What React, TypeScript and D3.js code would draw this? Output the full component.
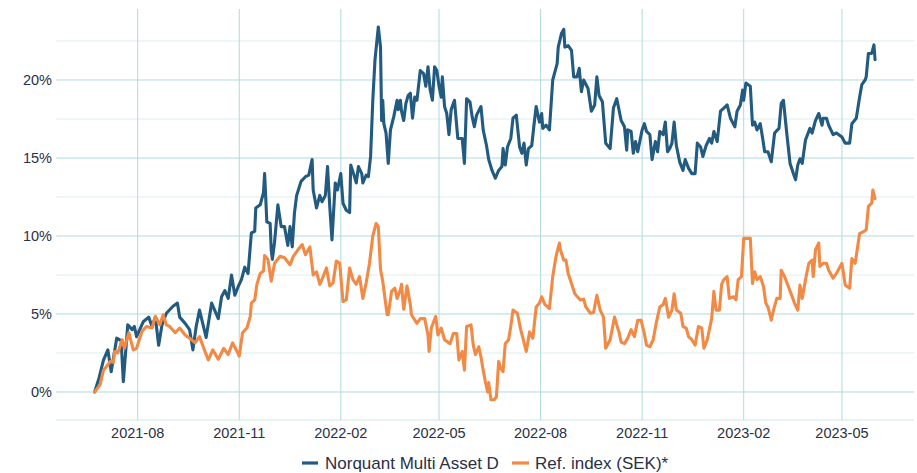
import React from "react";
import * as d3 from "d3";

// values (cumulative return, %)
const navDates = [
  "2021-06-23","2021-06-27","2021-07-01","2021-07-05","2021-07-08","2021-07-13","2021-07-17","2021-07-19","2021-07-23","2021-07-27",
  "2021-07-29","2021-07-31","2021-08-06","2021-08-11","2021-08-14","2021-08-17","2021-08-20","2021-08-23","2021-08-27","2021-09-02",
  "2021-09-06","2021-09-08","2021-09-13","2021-09-17","2021-09-20","2021-09-23","2021-09-26","2021-10-02","2021-10-07","2021-10-13",
  "2021-10-16","2021-10-19","2021-10-22","2021-10-25","2021-10-28","2021-10-31","2021-11-03","2021-11-06","2021-11-09","2021-11-12",
  "2021-11-15","2021-11-16","2021-11-20","2021-11-23","2021-11-24","2021-11-26","2021-11-29","2021-11-30","2021-12-01","2021-12-03",
  "2021-12-06","2021-12-09","2021-12-12","2021-12-15","2021-12-17","2021-12-19","2021-12-21","2021-12-23","2021-12-27","2021-12-31",
  "2022-01-03","2022-01-06","2022-01-07","2022-01-10","2022-01-13","2022-01-15","2022-01-18","2022-01-20","2022-01-22","2022-01-24",
  "2022-01-27","2022-01-29","2022-02-01","2022-02-03","2022-02-06","2022-02-09","2022-02-10","2022-02-13","2022-02-15","2022-02-17",
  "2022-02-20","2022-02-21","2022-02-24","2022-02-26","2022-02-28","2022-03-02","2022-03-04","2022-03-07","2022-03-09","2022-03-10",
  "2022-03-11","2022-03-12","2022-03-14","2022-03-16","2022-03-18","2022-03-21","2022-03-24","2022-03-25","2022-03-27","2022-03-28",
  "2022-03-30","2022-04-01","2022-04-03","2022-04-05","2022-04-07","2022-04-09","2022-04-11","2022-04-14","2022-04-17","2022-04-19",
  "2022-04-21","2022-04-23","2022-04-25","2022-04-27","2022-04-29","2022-05-01","2022-05-03","2022-05-04","2022-05-06","2022-05-08",
  "2022-05-10","2022-05-12","2022-05-15","2022-05-18","2022-05-22","2022-05-24","2022-05-26","2022-05-29","2022-05-31","2022-06-02",
  "2022-06-04","2022-06-08","2022-06-10","2022-06-13","2022-06-15","2022-06-18","2022-06-21","2022-06-24","2022-06-27","2022-06-28",
  "2022-06-30","2022-07-02","2022-07-05","2022-07-07","2022-07-10","2022-07-13","2022-07-15","2022-07-17","2022-07-19","2022-07-21",
  "2022-07-24","2022-07-26","2022-07-28","2022-07-31","2022-08-02","2022-08-03","2022-08-06","2022-08-09","2022-08-12","2022-08-16",
  "2022-08-17","2022-08-20","2022-08-22","2022-08-23","2022-08-26","2022-08-29","2022-08-31","2022-09-03","2022-09-05","2022-09-07",
  "2022-09-09","2022-09-13","2022-09-16","2022-09-19","2022-09-21","2022-09-23","2022-09-26","2022-09-29","2022-10-03","2022-10-06",
  "2022-10-09","2022-10-13","2022-10-16","2022-10-18","2022-10-19","2022-10-22","2022-10-24","2022-10-26","2022-10-28","2022-11-01",
  "2022-11-03","2022-11-05","2022-11-08","2022-11-10","2022-11-13","2022-11-15","2022-11-17","2022-11-20","2022-11-22","2022-11-24",
  "2022-11-26","2022-11-28","2022-11-30","2022-12-02","2022-12-05","2022-12-08","2022-12-10","2022-12-13","2022-12-16","2022-12-19",
  "2022-12-21","2022-12-24","2022-12-26","2022-12-29","2023-01-01","2023-01-03","2023-01-05","2023-01-08","2023-01-11","2023-01-14",
  "2023-01-17","2023-01-20","2023-01-24","2023-01-26","2023-01-29","2023-01-31","2023-02-01","2023-02-03","2023-02-07","2023-02-09",
  "2023-02-11","2023-02-13","2023-02-16","2023-02-18","2023-02-20","2023-02-23","2023-02-26","2023-03-01","2023-03-05","2023-03-07",
  "2023-03-09","2023-03-12","2023-03-15","2023-03-18","2023-03-20","2023-03-22","2023-03-24","2023-03-26","2023-03-29","2023-04-02",
  "2023-04-04","2023-04-07","2023-04-10","2023-04-13","2023-04-14","2023-04-17","2023-04-19","2023-04-23","2023-04-26","2023-05-01",
  "2023-05-04","2023-05-08","2023-05-10","2023-05-14","2023-05-17","2023-05-19","2023-05-22","2023-05-23","2023-05-25","2023-05-28",
  "2023-05-30","2023-05-31",
];
const navValues = [
  0.0, 0.9, 2.05, 2.7, 1.3, 3.45, 3.3, 0.66, 4.3, 4.0,
  4.2, 3.55, 4.5, 4.8, 4.2, 4.8, 3.0, 4.3, 5.05, 5.5,
  5.7, 4.8, 4.4, 4.0, 2.7, 4.2, 5.25, 3.5, 5.7, 4.7,
  6.1, 6.5, 6.0, 7.5, 6.2, 6.75, 7.2, 8.0, 7.6, 10.2,
  10.3, 11.8, 12.0, 12.8, 14.0, 10.9, 10.8, 9.1, 8.5, 9.6,
  12.0, 10.6, 10.6, 9.4, 10.6, 9.3, 11.45, 12.6, 13.5, 13.8,
  13.9, 14.9, 12.95, 11.8, 12.6, 12.2, 12.6, 14.45, 11.9, 9.75,
  13.4, 12.95, 14.0, 12.1, 11.65, 11.5, 14.55, 13.9, 13.4, 14.45,
  14.0, 13.4, 13.9, 13.8, 15.1, 18.7, 21.3, 23.4, 22.1, 17.4,
  18.7, 17.2, 16.6, 14.65, 16.8, 17.65, 18.7, 18.1, 18.7, 18.0,
  17.4, 18.5, 19.0, 19.15, 17.55, 18.9, 18.7, 20.6, 20.4, 19.6,
  20.85, 19.35, 18.7, 20.85, 20.6, 19.6, 18.9, 20.2, 18.3, 17.85,
  16.5, 18.1, 18.7, 16.25, 16.25, 14.65, 18.8, 18.6, 17.65, 17.0,
  17.75, 18.3, 16.8, 15.8, 14.9, 14.2, 13.7, 14.2, 14.45, 15.6,
  14.55, 15.7, 16.25, 17.55, 17.75, 15.7, 15.3, 15.95, 14.55, 15.6,
  15.8, 17.1, 18.3, 17.3, 17.85, 16.9, 17.1, 16.8, 20.0, 21.05,
  22.1, 23.0, 23.25, 22.1, 22.2, 21.9, 20.2, 20.2, 20.75, 19.25,
  20.0, 19.45, 18.0, 18.4, 20.2, 19.0, 18.6, 15.95, 15.6, 18.2,
  18.8, 17.4, 17.0, 15.5, 16.8, 16.7, 15.3, 16.05, 15.4, 16.8,
  17.2, 16.7, 16.5, 14.9, 16.05, 15.4, 16.7, 16.5, 17.3, 15.4,
  15.6, 15.95, 17.3, 15.8, 14.75, 14.2, 14.9, 14.35, 14.0, 14.0,
  15.95, 15.7, 15.1, 15.8, 16.25, 15.95, 16.7, 16.05, 18.0, 18.2,
  18.4, 17.55, 17.0, 18.0, 18.4, 19.35, 18.7, 19.8, 19.6, 17.1,
  17.3, 16.8, 17.2, 16.35, 15.4, 15.4, 14.75, 16.6, 16.9, 18.5,
  18.7, 16.6, 14.65, 14.0, 13.6, 14.55, 14.95, 14.65, 16.15, 16.9,
  16.6, 17.4, 17.85, 17.1, 17.55, 17.55, 17.1, 16.5, 16.6, 16.35,
  15.95, 15.95, 17.2, 17.55, 18.9, 19.7, 20.0, 20.2, 21.7, 21.7,
  22.25, 21.3,
];

const refDates = [
  "2021-06-23","2021-06-28","2021-07-01","2021-07-04","2021-07-07","2021-07-10","2021-07-11","2021-07-14","2021-07-18","2021-07-20",
  "2021-07-24","2021-07-28","2021-07-31","2021-08-05","2021-08-09","2021-08-14","2021-08-17","2021-08-21","2021-08-24","2021-08-27",
  "2021-08-30","2021-09-04","2021-09-08","2021-09-13","2021-09-17","2021-09-22","2021-09-26","2021-10-01","2021-10-04","2021-10-08",
  "2021-10-13","2021-10-18","2021-10-22","2021-10-26","2021-10-30","2021-11-01","2021-11-04","2021-11-08","2021-11-11","2021-11-12",
  "2021-11-15","2021-11-17","2021-11-20","2021-11-23","2021-11-24","2021-11-27","2021-11-30","2021-12-03","2021-12-08","2021-12-12",
  "2021-12-17","2021-12-20","2021-12-24","2021-12-28","2021-12-31","2022-01-04","2022-01-07","2022-01-10","2022-01-13","2022-01-16",
  "2022-01-19","2022-01-22","2022-01-25","2022-01-28","2022-01-31","2022-02-03","2022-02-06","2022-02-09","2022-02-12","2022-02-15",
  "2022-02-18","2022-02-21","2022-02-24","2022-02-27","2022-03-02","2022-03-05","2022-03-07","2022-03-09","2022-03-11","2022-03-15",
  "2022-03-16","2022-03-19","2022-03-22","2022-03-24","2022-03-27","2022-03-28","2022-03-30","2022-04-02","2022-04-05","2022-04-06",
  "2022-04-11","2022-04-14","2022-04-18","2022-04-21","2022-04-22","2022-04-24","2022-04-28","2022-04-30","2022-05-03","2022-05-06",
  "2022-05-11","2022-05-14","2022-05-17","2022-05-19","2022-05-22","2022-05-24","2022-05-26","2022-05-30","2022-06-01","2022-06-03",
  "2022-06-06","2022-06-08","2022-06-10","2022-06-12","2022-06-14","2022-06-15","2022-06-17","2022-06-20","2022-06-22","2022-06-24",
  "2022-06-26","2022-06-28","2022-06-30","2022-07-03","2022-07-05","2022-07-07","2022-07-11","2022-07-14","2022-07-16","2022-07-19",
  "2022-07-22","2022-07-25","2022-07-28","2022-07-31","2022-08-02","2022-08-05","2022-08-09","2022-08-12","2022-08-15","2022-08-18",
  "2022-08-19","2022-08-22","2022-08-24","2022-08-26","2022-08-29","2022-09-01","2022-09-06","2022-09-09","2022-09-11","2022-09-15",
  "2022-09-18","2022-09-21","2022-09-24","2022-09-27","2022-09-29","2022-10-03","2022-10-07","2022-10-09","2022-10-11","2022-10-13",
  "2022-10-16","2022-10-19","2022-10-22","2022-10-25","2022-10-28","2022-10-31","2022-11-03","2022-11-05","2022-11-08","2022-11-11",
  "2022-11-14","2022-11-17","2022-11-20","2022-11-22","2022-11-25","2022-11-28","2022-11-30","2022-12-02","2022-12-06","2022-12-08",
  "2022-12-11","2022-12-13","2022-12-16","2022-12-19","2022-12-22","2022-12-25","2022-12-27","2022-12-30","2023-01-03","2023-01-05",
  "2023-01-07","2023-01-10","2023-01-12","2023-01-14","2023-01-17","2023-01-19","2023-01-23","2023-01-25","2023-01-27","2023-01-30",
  "2023-02-01","2023-02-07","2023-02-09","2023-02-11","2023-02-13","2023-02-16","2023-02-19","2023-02-21","2023-02-23","2023-02-26",
  "2023-02-28","2023-03-03","2023-03-06","2023-03-07","2023-03-10","2023-03-13","2023-03-17","2023-03-19","2023-03-22","2023-03-24",
  "2023-03-26","2023-03-29","2023-04-01","2023-04-04","2023-04-05","2023-04-07","2023-04-10","2023-04-11","2023-04-14","2023-04-17",
  "2023-04-19","2023-04-23","2023-04-26","2023-05-01","2023-05-04","2023-05-08","2023-05-10","2023-05-13","2023-05-17","2023-05-21",
  "2023-05-23","2023-05-25","2023-05-28","2023-05-29","2023-05-31",
];
const refValues = [
  0.0, 0.47, 1.4, 1.65, 1.95, 1.9, 2.6, 2.5, 3.35, 2.8,
  3.8, 2.7, 2.8, 3.9, 4.2, 4.1, 4.85, 4.3, 4.95, 4.3,
  4.2, 3.8, 4.1, 3.65, 3.45, 3.15, 3.55, 2.6, 2.05, 2.7,
  2.1, 2.8, 2.4, 3.15, 2.6, 2.3, 3.8, 4.1, 4.85, 5.7,
  5.9, 6.9, 7.6, 7.75, 8.75, 8.5, 7.1, 8.25, 8.7, 8.6,
  8.15, 8.7, 9.1, 9.45, 8.8, 9.3, 7.5, 7.7, 6.9, 7.4,
  7.95, 6.8, 7.0, 8.4, 8.25, 5.8, 5.9, 7.95, 7.2, 6.9,
  7.4, 6.0, 7.0, 8.25, 10.0, 10.8, 10.6, 7.85, 7.1, 4.95,
  4.95, 6.45, 6.65, 6.0, 6.55, 6.9, 5.3, 6.8, 5.6, 4.95,
  4.4, 4.7, 4.7, 3.65, 2.6, 4.1, 4.85, 3.65, 4.1, 3.35,
  3.1, 3.75, 3.75, 2.05, 2.6, 1.4, 4.2, 4.3, 3.0, 2.4,
  2.9, 2.25, 1.4, 0.66, 0.0, 0.6, -0.5, -0.5, -0.3, 1.95,
  1.5, 1.3, 3.1, 3.35, 4.2, 5.25, 5.05, 4.0, 3.45, 2.6,
  3.85, 3.45, 5.45, 5.7, 6.1, 5.6, 5.35, 7.4, 8.7, 9.55,
  9.1, 8.45, 8.45, 7.6, 6.95, 6.3, 5.9, 5.95, 5.45, 5.05,
  5.1, 6.2, 5.25, 4.8, 2.8, 3.35, 4.8, 4.3, 3.85, 3.2,
  3.1, 3.45, 4.0, 3.55, 4.6, 4.6, 3.75, 3.0, 2.9, 3.35,
  4.5, 5.45, 5.6, 6.0, 4.8, 5.25, 6.3, 5.25, 5.05, 4.2,
  4.1, 3.55, 3.35, 3.0, 4.2, 4.1, 2.8, 3.35, 4.7, 6.45,
  5.25, 5.25, 6.9, 7.2, 7.4, 6.0, 6.1, 5.9, 7.2, 7.4,
  9.85, 9.85, 6.95, 7.7, 7.2, 7.4, 6.75, 5.7, 5.45, 4.6,
  5.25, 6.0, 6.0, 7.8, 7.4, 6.85, 6.1, 5.7, 5.25, 6.85,
  6.0, 7.2, 8.25, 8.45, 7.4, 9.1, 9.55, 8.05, 8.25, 8.25,
  7.8, 7.3, 7.6, 8.25, 6.85, 6.65, 8.55, 8.25, 10.15, 10.3,
  10.4, 11.9, 12.1, 12.95, 12.4,
];

const seriesNames = ["Norquant Multi Asset D", "Ref. index (SEK)*"];
const seriesColors = ["#235a80", "#f28a45"];

const xTicks = ["2021-08-01", "2021-11-01", "2022-02-01", "2022-05-01", "2022-08-01", "2022-11-01", "2023-02-01", "2023-05-01"];
const yMajorTicks = [0, 5, 10, 15, 20];
const yMinorTicks = [2.5, 7.5, 12.5, 17.5, 22.5];

const W = 917;
const H = 473;
const M = { left: 56, right: 914, top: 9, bottom: 420 };
const FONT = "'Liberation Sans', Arial, Helvetica, sans-serif";
const TEXT = "#2a3045";

export default function App() {
  const x = d3
    .scaleUtc()
    .domain([new Date("2021-05-19T00:00:00Z"), new Date("2023-07-05T07:00:00Z")])
    .range([M.left, M.right]);
  const y = d3.scaleLinear().domain([-1.795, 24.55]).range([M.bottom, M.top]);
  const fmt = d3.utcFormat("%Y-%m");

  const line = d3
    .line<[Date, number]>()
    .x((d) => x(d[0]))
    .y((d) => y(d[1]));

  const series = [
    navDates.map((d, i) => [new Date(d + "T00:00:00Z"), navValues[i]] as [Date, number]),
    refDates.map((d, i) => [new Date(d + "T00:00:00Z"), refValues[i]] as [Date, number]),
  ];

  return (
    <svg width={W} height={H} style={{ position: "absolute", left: 0, top: 0, background: "#fff" }} fontFamily={FONT}>
      {/* minor horizontal grid */}
      {yMinorTicks.map((t) => (
        <line key={"mn" + t} x1={M.left} x2={M.right} y1={y(t)} y2={y(t)} stroke="#dcefef" strokeWidth={1} />
      ))}
      <line x1={M.left} x2={M.right} y1={M.bottom} y2={M.bottom} stroke="#cfe8e8" strokeWidth={1} />
      {/* major horizontal grid */}
      {yMajorTicks.map((t) => (
        <line key={"mj" + t} x1={M.left} x2={M.right} y1={y(t)} y2={y(t)} stroke="#b0dbdb" strokeWidth={1} />
      ))}
      {/* vertical grid */}
      {xTicks.map((t) => {
        const xx = x(new Date(t + "T00:00:00Z"));
        return <line key={"v" + t} x1={xx} x2={xx} y1={M.top} y2={M.bottom} stroke="#b0dbdb" strokeWidth={1} />;
      })}

      {series.map((s, i) => (
        <path
          key={seriesNames[i]}
          d={line(s) || ""}
          fill="none"
          stroke={seriesColors[i]}
          strokeWidth={3.1}
          strokeLinejoin="round"
          strokeLinecap="round"
        />
      ))}

      {yMajorTicks.map((t) => (
        <text key={"yl" + t} x={52} y={y(t)} dy="0.36em" textAnchor="end" fontSize={14.5} fill={TEXT}>
          {t + "%"}
        </text>
      ))}
      {xTicks.map((t) => (
        <text key={"xl" + t} x={x(new Date(t + "T00:00:00Z"))} y={438} textAnchor="middle" fontSize={14.5} fill={TEXT}>
          {fmt(new Date(t + "T00:00:00Z"))}
        </text>
      ))}

      {/* legend */}
      <g>
        <line x1={302} x2={318} y1={463} y2={463} stroke={seriesColors[0]} strokeWidth={3.2} />
        <text x={325} y={469} fontSize={17} fill={TEXT}>
          {seriesNames[0]}
        </text>
        <line x1={512} x2={529} y1={463} y2={463} stroke={seriesColors[1]} strokeWidth={3.2} />
        <text x={535} y={469} fontSize={17} fill={TEXT}>
          {seriesNames[1]}
        </text>
      </g>
    </svg>
  );
}
